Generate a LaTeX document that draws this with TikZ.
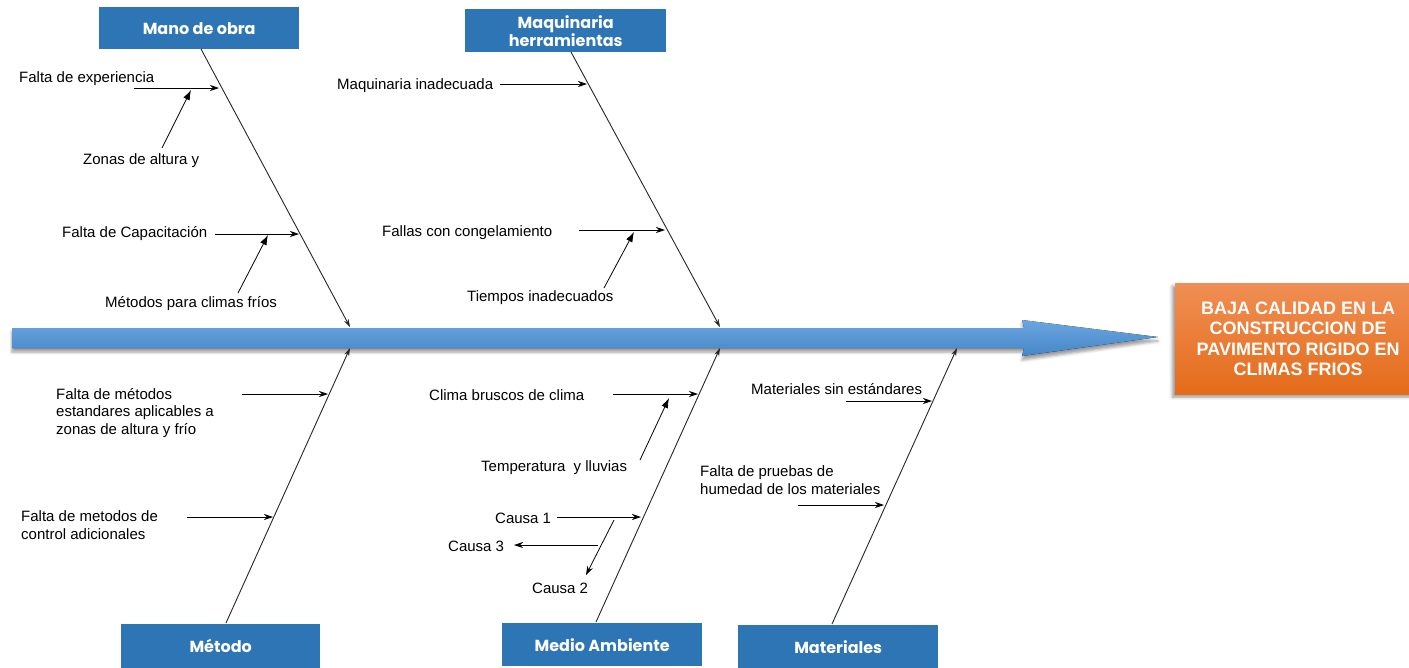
\documentclass[tikz,border=0pt]{standalone}
\usepackage{fontspec}
\setmainfont{Liberation Sans}
\newfontfamily\boxfont{Poppins}
\usetikzlibrary{arrows.meta,shadows.blur}
\definecolor{catblue}{RGB}{46,117,182}
\definecolor{spinetop}{RGB}{106,166,224}
\definecolor{spinebot}{RGB}{70,134,200}
\definecolor{efftop}{RGB}{240,142,84}
\definecolor{effbot}{RGB}{228,108,26}
\begin{document}
\begin{tikzpicture}[x=1pt,y=-1pt,
  cat/.style={fill=catblue, text=white, font=\boxfont\bfseries\fontsize{16}{17}\selectfont,
    minimum width=200pt, minimum height=42pt, inner sep=0pt, align=center, anchor=north west},
  effect/.style={top color=efftop, bottom color=effbot, text=white,
    font=\bfseries\fontsize{18}{20.5}\selectfont, align=center, inner sep=0pt,
    minimum width=246pt, minimum height=111pt, anchor=north west,
    blur shadow={shadow xshift=-3pt, shadow yshift=-3pt, shadow blur radius=3pt}},
  lbl/.style={font=\fontsize{15}{17.5}\selectfont, inner sep=0pt, anchor=base west, align=left},
  bone/.style={draw=black!85, line width=0.9pt, -{Stealth[length=8pt,width=5pt]}},
  sub/.style={draw=black, line width=0.8pt, -{Stealth[length=9pt,width=6pt]}},
  subtri/.style={draw=black, line width=0.8pt, -{Latex[length=10pt,width=7pt]}},
]
\useasboundingbox (0,0) rectangle (1409,667);

% spine
\fill[blur shadow={shadow xshift=0pt, shadow yshift=-4pt, shadow blur radius=3pt},
  top color=spinetop, bottom color=spinebot]
  (12,328) -- (1024,328) -- (1022,320) -- (1158,337) -- (1022,356) -- (1024,348) -- (12,348) -- cycle;

% effect
\node[effect] (effect) at (1175,283) {BAJA CALIDAD EN LA\\CONSTRUCCION DE\\PAVIMENTO RIGIDO EN\\CLIMAS FRIOS};

% category boxes
\node[cat] (mano) at (99,7) {Mano de obra};
\node[cat, minimum width=201pt, minimum height=43pt] (maq) at (465,9) {Maquinaria\\herramientas};
\node[cat, minimum width=199pt, minimum height=44pt] (metodo) at (121,624) {Método};
\node[cat, minimum height=43pt] (medio) at (502,623) {Medio Ambiente};
\node[cat, minimum height=43pt] (mat) at (738,625) {Materiales};

% bone coordinates
\coordinate (manoA) at (201,49);  \coordinate (manoB) at (350,327);
\coordinate (maqA) at (571,52);   \coordinate (maqB) at (720,327);
\coordinate (metA) at (226,623);  \coordinate (metB) at (350,348);
\coordinate (medA) at (596,622);  \coordinate (medB) at (720,348);
\coordinate (matA) at (832,624);  \coordinate (matB) at (957,348);
\draw[bone] (manoA) -- (manoB);
\draw[bone] (maqA) -- (maqB);
\draw[bone] (metA) -- (metB);
\draw[bone] (medA) -- (medB);
\draw[bone] (matA) -- (matB);

% labels (multi-line nodes are placed by the baseline of their last line)
\node[lbl] (l1) at (19,82) {Falta de experiencia};
\node[lbl] (l2) at (83,164) {Zonas de altura y};
\node[lbl] (l3) at (62,237) {Falta de Capacitación};
\node[lbl] (l4) at (105,307) {Métodos para climas fríos};
\node[lbl] (l5) at (337,89) {Maquinaria inadecuada};
\node[lbl] (l6) at (382,236) {Fallas con congelamiento};
\node[lbl] (l7) at (467,301) {Tiempos inadecuados};
\node[lbl] (l8) at (56,434) {Falta de métodos\\estandares aplicables a\\zonas de altura y frío};
\node[lbl] (l9) at (21,539) {Falta de metodos de\\control adicionales};
\node[lbl] (l10) at (429,400) {Clima bruscos de clima};
\node[lbl] (l11) at (481,471) {Temperatura\ \ y lluvias};
\node[lbl] (l12) at (495,523) {Causa 1};
\node[lbl] (l13) at (448,551) {Causa 3};
\node[lbl] (l14) at (532,593) {Causa 2};
\node[lbl] (l15) at (751,394) {Materiales sin estándares};
\node[lbl] (l16) at (700,494) {Falta de pruebas de\\humedad de los materiales};

% sub-cause arrows
\coordinate (a1s) at (134,88);  \coordinate (a1e) at (219,88);
\coordinate (a2s) at (162,148); \coordinate (a2e) at (191,90);
\coordinate (a3s) at (215,234); \coordinate (a3e) at (299,234);
\coordinate (a4s) at (238,293); \coordinate (a4e) at (268,235);
\coordinate (b1s) at (500,84);  \coordinate (b1e) at (587,84);
\coordinate (b2s) at (579,230); \coordinate (b2e) at (665,230);
\coordinate (b3s) at (604,288); \coordinate (b3e) at (634,232);
\coordinate (c1s) at (242,394); \coordinate (c1e) at (328,394);
\coordinate (c2s) at (187,517); \coordinate (c2e) at (273,517);
\coordinate (d1s) at (613,394); \coordinate (d1e) at (698,394);
\coordinate (d2s) at (640,460); \coordinate (d2e) at (669,398);
\coordinate (d3s) at (557,517); \coordinate (d3e) at (641,517);
\coordinate (d4s) at (598,545); \coordinate (d4e) at (514,545);
\coordinate (d5s) at (614,520); \coordinate (d5e) at (586,575);
\coordinate (e1s) at (846,401); \coordinate (e1e) at (932,401);
\coordinate (e2s) at (798,505); \coordinate (e2e) at (884,505);

\draw[sub] (a1s) -- (a1e);
\draw[subtri] (a2s) -- (a2e);
\draw[sub] (a3s) -- (a3e);
\draw[subtri] (a4s) -- (a4e);
\draw[sub] (b1s) -- (b1e);
\draw[sub] (b2s) -- (b2e);
\draw[subtri] (b3s) -- (b3e);
\draw[sub] (c1s) -- (c1e);
\draw[sub] (c2s) -- (c2e);
\draw[sub] (d1s) -- (d1e);
\draw[subtri] (d2s) -- (d2e);
\draw[sub] (d3s) -- (d3e);
\draw[sub] (d4s) -- (d4e);
\draw[sub] (d5s) -- (d5e);
\draw[sub] (e1s) -- (e1e);
\draw[sub] (e2s) -- (e2e);
\end{tikzpicture}
\end{document}
